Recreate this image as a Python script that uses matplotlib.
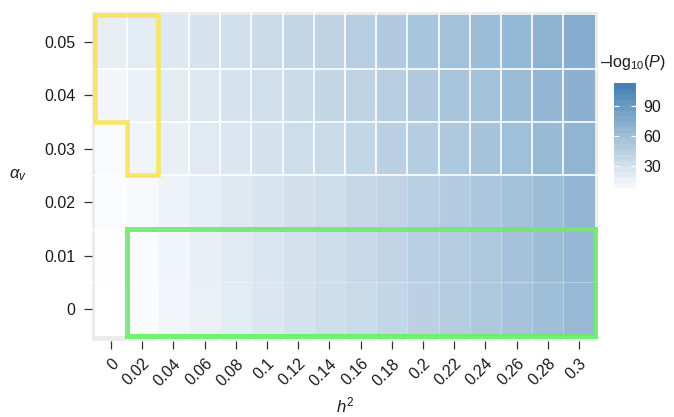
import numpy as np
import matplotlib.pyplot as plt
import matplotlib.cm as cm
from matplotlib.colors import LinearSegmentedColormap, Normalize
from matplotlib.patches import Rectangle, Polygon

plt.rcParams["font.family"] = ["Liberation Sans", "DejaVu Sans"]
plt.rcParams["mathtext.fontset"] = "custom"
plt.rcParams["mathtext.rm"] = "Liberation Sans"
plt.rcParams["mathtext.it"] = "Liberation Sans:italic"

# h^2 (columns) and alpha_v (rows)
H2 = [0, 0.02, 0.04, 0.06, 0.08, 0.10, 0.12, 0.14, 0.16, 0.18, 0.20,
      0.22, 0.24, 0.26, 0.28, 0.30]
H2_LABELS = ["0", "0.02", "0.04", "0.06", "0.08", "0.1", "0.12", "0.14",
             "0.16", "0.18", "0.2", "0.22", "0.24", "0.26", "0.28", "0.3"]
ALPHA_V = [0, 0.01, 0.02, 0.03, 0.04, 0.05]
ALPHA_LABELS = ["0", "0.01", "0.02", "0.03", "0.04", "0.05"]

# -log10(P), one list per alpha_v row (bottom to top)
LOGP_A000 = [1.5, 6, 14, 21, 28, 35, 41, 46, 52, 58, 64, 70, 76, 83, 90, 97]
LOGP_A001 = [2.5, 7, 15, 22, 29, 36, 42, 47, 53, 59, 65, 71, 77, 84, 91, 98]
LOGP_A002 = [5, 10, 17, 24, 31, 37, 43, 48, 54, 60, 66, 72, 78, 85, 92, 100]
LOGP_A003 = [8, 15, 22, 29, 35, 41, 47, 52, 58, 64, 70, 76, 82, 89, 96, 103]
LOGP_A004 = [14, 20, 27, 33, 39, 45, 51, 56, 62, 68, 74, 80, 86, 93, 100, 107]
LOGP_A005 = [23, 27, 33, 39, 45, 51, 57, 62, 68, 74, 80, 86, 92, 99, 106, 113]

# highlighted regions
YELLOW_H2 = [0, 0.02]          # columns in the yellow region
YELLOW_AV_LOW = [0.04, 0.03]   # lowest alpha_v per column (up to 0.05)
GREEN_H2 = (0.02, 0.30)
GREEN_AV = (0, 0.01)

FS = 11.5

z = np.array([LOGP_A000, LOGP_A001, LOGP_A002, LOGP_A003, LOGP_A004, LOGP_A005])
h2 = np.array(H2)
av = np.array(ALPHA_V)
dx = (h2[1] - h2[0]) / 2
dy = (av[1] - av[0]) / 2
xe = np.append(h2 - dx, h2[-1] + dx)
ye = np.append(av - dy, av[-1] + dy)

cmap = LinearSegmentedColormap.from_list("wb", ["#FFFFFF", "#4682B4"])
norm = Normalize(vmin=z.min(), vmax=z.max())

fig = plt.figure(figsize=(6.74, 4.17), dpi=100)
ax = fig.add_axes([0.1365, 0.1823, 0.7507, 0.789])
ax.set_facecolor("#EBEBEB")
for s in ax.spines.values():
    s.set_visible(False)

ax.set_xticks(h2, minor=False)
ax.set_xticks(xe[1:-1], minor=True)
ax.set_yticks(av)
ax.set_yticks(ye[1:-1], minor=True)
ax.set_axisbelow(True)
ax.grid(which="minor", color="white", lw=1.0)
ax.tick_params(which="minor", length=0)

ax.add_patch(Rectangle((xe[0], ye[0]), xe[-1] - xe[0], ye[-1] - ye[0],
                       facecolor="white", edgecolor="none", zorder=1))
ax.pcolormesh(xe, ye, z, cmap=cmap, norm=norm, alpha=0.65, zorder=2)

# tile separators: strong in the upper rows, faint in the lower ones
split = ye[3]
ax.vlines(xe[1:-1], split, ye[-1], color="white", lw=1.2, zorder=3)
ax.vlines(xe[1:-1], ye[0], split, color="white", lw=0.8, alpha=0.3, zorder=3)
ax.hlines(ye[3:-1], xe[0], xe[-1], color="white", lw=1.2, zorder=3)
ax.hlines(ye[1:3], xe[0], xe[-1], color="white", lw=0.8, alpha=0.3, zorder=3)

# yellow outline
xl, xr = YELLOW_H2[0] - dx, YELLOW_H2[1] + dx
xm = YELLOW_H2[0] + dx
top = av[-1] + dy
yv = [
    (xl, top), (xr, top), (xr, YELLOW_AV_LOW[1] - dy),
    (xm, YELLOW_AV_LOW[1] - dy), (xm, YELLOW_AV_LOW[0] - dy),
    (xl, YELLOW_AV_LOW[0] - dy),
]
ax.add_patch(Polygon(yv, closed=True, fill=False, edgecolor="#F8E35A",
                     lw=3.3, alpha=0.9, zorder=4, joinstyle="miter"))

# green outline
ax.add_patch(Rectangle((GREEN_H2[0] - dx, GREEN_AV[0] - dy),
                       GREEN_H2[1] - GREEN_H2[0] + 2 * dx,
                       GREEN_AV[1] - GREEN_AV[0] + 2 * dy,
                       fill=False, edgecolor="#6CEB6C", lw=3.6, alpha=0.9,
                       zorder=4, joinstyle="miter"))

ax.set_xlim(xe[0] - 0.0022, xe[-1] + 0.0022)
ax.set_ylim(ye[0] - 0.001, ye[-1] + 0.0006)

ax.set_xticklabels(H2_LABELS, rotation=45, ha="right", va="top",
                   rotation_mode="anchor")
ax.set_yticklabels(ALPHA_LABELS)
ax.tick_params(which="major", length=5.8, width=0.9, color="#333333",
               labelsize=FS, labelcolor="#1A1A1A")
ax.tick_params(axis="x", which="major", pad=5)
ax.tick_params(axis="y", which="major", pad=6)

fig.text(18 / 674, 1 - 175 / 417, r"$\alpha_v$", ha="center", va="center",
         fontsize=FS + 0.5, color="#1A1A1A")
fig.text(345 / 674, 1 - 415 / 417, r"$h^2$", ha="center", va="bottom",
         fontsize=FS + 0.5, color="#1A1A1A")

# colour bar
cax = fig.add_axes([0.911, 0.535, 0.033, 0.266])
sm = cm.ScalarMappable(norm=norm, cmap=cmap.resampled(20))
cb = fig.colorbar(sm, cax=cax, ticks=[30, 60, 90])
cb.outline.set_visible(False)
cax.minorticks_off()
cax.tick_params(left=True, right=True, direction="in", color="white",
                length=3.5, width=0.8, labelsize=FS, labelcolor="#1A1A1A",
                pad=5)
fig.text(600 / 674, 1 - 63 / 417, "\u2013log$_{10}$($P$)", ha="left",
         va="center", fontsize=FS, color="#1A1A1A")

fig.savefig("out.png", dpi=100)
